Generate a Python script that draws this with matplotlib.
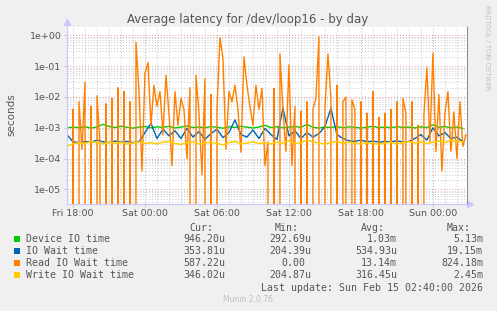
import numpy as np
import matplotlib
matplotlib.use("Agg")
import matplotlib.pyplot as plt
from matplotlib.ticker import FixedLocator, LogLocator, NullFormatter

# Average latency for /dev/loop16 - by day (munin)
# horas a partir de Fri 18:00

TITULO = "Average latency for /dev/loop16 - by day"

# Read IO Wait time, a cada 15 min (0 = sem leitura)
t_read = np.arange(-0.5, 33.0, 0.25)[:134]
read_io = [3e-3, 0, 4e-3, 0, 7e-3, 2e-4, 3e-2, 0, 5e-3, 0,
           1.1e-2, 3e-4, 0, 6e-3, 0, 9e-3, 0, 2e-2, 0, 1.5e-2,
           0, 7e-3, 0, 0.6, 1.5e-2, 4e-5, 6e-2, 0.13, 1.2e-3, 2.4e-2,
           5e-3, 1.5e-2, 6e-4, 5e-2, 3e-3, 6e-5, 1.5e-2, 1.2e-3, 9e-3, 4e-3,
           1e-4, 2e-2, 0, 5e-2, 3e-3, 3e-5, 4e-2, 0, 1.2e-2, 0,
           4e-3, 0.84, 0.18, 2e-4, 1.5e-2, 7e-3, 2.4e-2, 4e-3, 1.6e-4, 0.2,
           2.4e-2, 5e-3, 1.2e-3, 2.4e-2, 4e-3, 1.9e-2, 6e-5, 3.5e-4, 0, 1.9e-2,
           0, 0.25, 4e-3, 1.7e-4, 0.11, 6e-5, 5e-3, 0, 3.5e-3, 0,
           7e-3, 0, 4e-3, 9e-3, 0.9, 0, 4e-3, 0.25, 9e-3, 0,
           2.4e-2, 0, 7e-3, 1e-2, 0, 8e-3, 4e-3, 0, 7e-3, 0,
           3e-3, 0, 1.5e-2, 0, 2.2e-3, 0, 3e-3, 0, 4e-3, 0,
           7e-3, 0, 9e-3, 3e-3, 0, 7e-3, 0, 1.2e-3, 0, 2.6e-3,
           0.09, 3.5e-4, 0.26, 1.7e-4, 1.2e-2, 4e-5, 3e-3, 1.5e-2, 1.7e-4, 3.3e-3,
           1e-4, 7e-3, 2.5e-4, 5.9e-4]

# demais series, a cada 30 min (em ms)
t_meia = np.arange(-0.5, 33.0, 0.5)[:67]
device_io = [1.00, 1.05, 1.02, 1.08, 0.98, 1.06, 1.30, 1.10, 1.02, 1.12,
             1.04, 0.98, 1.05, 1.10, 1.00, 1.07, 1.03, 1.12, 0.99, 1.05,
             1.15, 1.02, 1.06, 1.00, 1.10, 1.04, 0.97, 1.08, 1.03, 1.12,
             1.05, 0.99, 1.06, 1.20, 1.02, 1.08, 1.00, 1.05, 1.10, 1.03,
             1.28, 1.04, 0.98, 1.06, 1.02, 1.10, 1.00, 1.07, 1.04, 0.98,
             1.05, 1.12, 1.01, 1.06, 1.00, 1.09, 1.03, 1.05, 0.99, 1.07,
             1.02, 1.25, 1.04, 1.10, 1.00, 1.06, 0.95]
io_wait = [0.60, 0.35, 0.33, 0.36, 0.34, 0.40, 0.35, 0.33, 0.37, 0.34,
           0.36, 0.33, 0.35, 0.70, 1.40, 0.45, 0.90, 0.55, 0.80, 0.45,
           0.95, 0.50, 0.75, 0.42, 0.65, 0.90, 0.48, 0.70, 1.80, 0.60,
           0.50, 0.85, 0.45, 0.95, 0.60, 0.42, 4.40, 0.55, 0.80, 0.45,
           0.70, 0.50, 0.65, 1.10, 4.30, 0.60, 0.45, 0.38, 0.36, 0.40,
           0.35, 0.37, 0.34, 0.36, 0.35, 0.38, 0.34, 0.36, 0.45, 0.60,
           0.40, 1.00, 0.55, 0.70, 0.45, 0.50, 0.35]
write_io = [0.25, 0.30, 0.33, 0.31, 0.36, 0.32, 0.30, 0.34, 0.31, 0.33,
            0.30, 0.32, 0.35, 0.31, 0.33, 0.30, 0.34, 0.36, 0.31, 0.29,
            0.33, 0.35, 0.30, 0.32, 0.34, 0.31, 0.28, 0.33, 0.36, 0.30,
            0.32, 0.35, 0.31, 0.33, 0.30, 0.34, 0.32, 0.38, 0.31, 0.33,
            0.40, 0.35, 0.32, 0.30, 0.33, 0.36, 0.31, 0.34, 0.32, 0.30,
            0.33, 0.31, 0.29, 0.32, 0.34, 0.30, 0.33, 0.36, 0.32, 0.35,
            0.31, 0.34, 0.37, 0.33, 0.39, 0.36, 0.35]

nomes = ["Device IO time", "IO Wait time", "Read IO Wait time", "Write IO Wait time"]
CORES = ["#00cc00", "#0066b3", "#ff8000", "#ffcc00"]
cur = ["946.20u", "353.81u", "587.22u", "346.02u"]
vmin = ["292.69u", "204.39u", "0.00", "204.87u"]
vavg = ["1.03m", "534.93u", "13.14m", "316.45u"]
vmax = ["5.13m", "19.15m", "824.18m", "2.45m"]

horas_ticks = [0, 6, 12, 18, 24, 30]
rotulos_x = ["Fri 18:00", "Sat 00:00", "Sat 06:00", "Sat 12:00", "Sat 18:00", "Sun 00:00"]

W, H = 497, 311
FUNDO = "#f0f0f0"
TEXTO = "#555555"


def px(x, y):
    return x / W, 1 - y / H


fig = plt.figure(figsize=(W / 100, H / 100), dpi=100, facecolor=FUNDO)
x0, y0 = px(67, 203.5)
x1, y1 = px(466.5, 27)
ax = fig.add_axes([x0, y0, x1 - x0, y1 - y0])
ax.set_facecolor("white")

ax.plot(t_meia, np.array(device_io) * 1e-3, c=CORES[0], lw=1.0)
ax.plot(t_meia, np.array(io_wait) * 1e-3, c=CORES[1], lw=1.0)
ax.plot(t_read, read_io, c=CORES[2], lw=1.0)
ax.plot(t_meia, np.array(write_io) * 1e-3, c=CORES[3], lw=1.1)

ax.set_yscale("log", nonpositive="clip")
ax.set_ylim(3.5e-6, 1.86)
ax.set_xlim(-0.5, 32.8)

ax.yaxis.set_major_locator(FixedLocator([1e-5, 1e-4, 1e-3, 1e-2, 1e-1, 1e0]))
ax.yaxis.set_minor_locator(LogLocator(base=10, subs=np.arange(2, 10)))
ax.yaxis.set_minor_formatter(NullFormatter())
ax.set_yticklabels(["1e-05", "1e-04", "1e-03", "1e-02", "1e-01", "1e+00"])
ax.set_xticks(horas_ticks)
ax.set_xticklabels(rotulos_x)
ax.xaxis.set_minor_locator(FixedLocator(np.arange(0, 33, 1)))

ax.grid(which="minor", color="#c8c8c8", linestyle=(0, (1, 2)), linewidth=0.7)
ax.grid(which="major", color="#e09a9a", linestyle=(0, (1, 2)), linewidth=0.7)
ax.set_axisbelow(True)
ax.tick_params(which="both", length=2, color="#c8c8c8", labelsize=6.8,
               labelcolor=TEXTO, pad=2)
ax.tick_params(which="minor", length=0)

ax.spines["top"].set_visible(False)
ax.spines["left"].set_color("#c8c8ff")
ax.spines["bottom"].set_color("#c8c8ff")
ax.spines["right"].set_color("#909090")
for s in ax.spines.values():
    s.set_linewidth(0.8)
ax.plot([0], [1.03], marker="^", ms=4, color="#c8c8ff", transform=ax.transAxes, clip_on=False)
ax.plot([1.01], [0], marker=">", ms=4, color="#c8c8ff", transform=ax.transAxes, clip_on=False)

fig.text(*px(248, 19), TITULO, ha="center", va="center", fontsize=8.5, color=TEXTO)
fig.text(*px(11, 115), "seconds", ha="center", va="center", rotation=90,
         fontsize=7.5, color=TEXTO)
fig.text(*px(487, 5), "RRDTOOL / TOBI OETIKER", ha="center", va="top", rotation=270,
         fontsize=4.8, color="#c0c0c0")

MONO = dict(family="DejaVu Sans Mono", fontsize=7.1, color=TEXTO, va="center")
colunas = [225, 311, 397, 483]
for cab, xc in zip(["Cur:", "Min:", "Avg:", "Max:"], colunas):
    fig.text(*px(xc - 12, 227.7), cab, ha="right", **MONO)
for n in range(4):
    y = 239.3 + 12 * n
    fig.patches.append(plt.Rectangle(px(14, y + 3), 6 / W, 6 / H, transform=fig.transFigure,
                                     facecolor=CORES[n], edgecolor="none"))
    fig.text(*px(26, y), nomes[n], ha="left", **MONO)
    for col, xc in zip([cur, vmin, vavg, vmax], colunas):
        txt = col[n]
        if txt[-1] not in "um":
            xc = xc - 6
        fig.text(*px(xc, y), txt, ha="right", **MONO)
fig.text(*px(483, 288), "Last update: Sun Feb 15 02:40:00 2026", ha="right", **MONO)
fig.text(*px(248, 300), "Munin 2.0.76", ha="center", va="center", fontsize=5.5,
         color="#c0c0c0")

fig.savefig("out.png", dpi=100, facecolor=FUNDO)
plt.close()
